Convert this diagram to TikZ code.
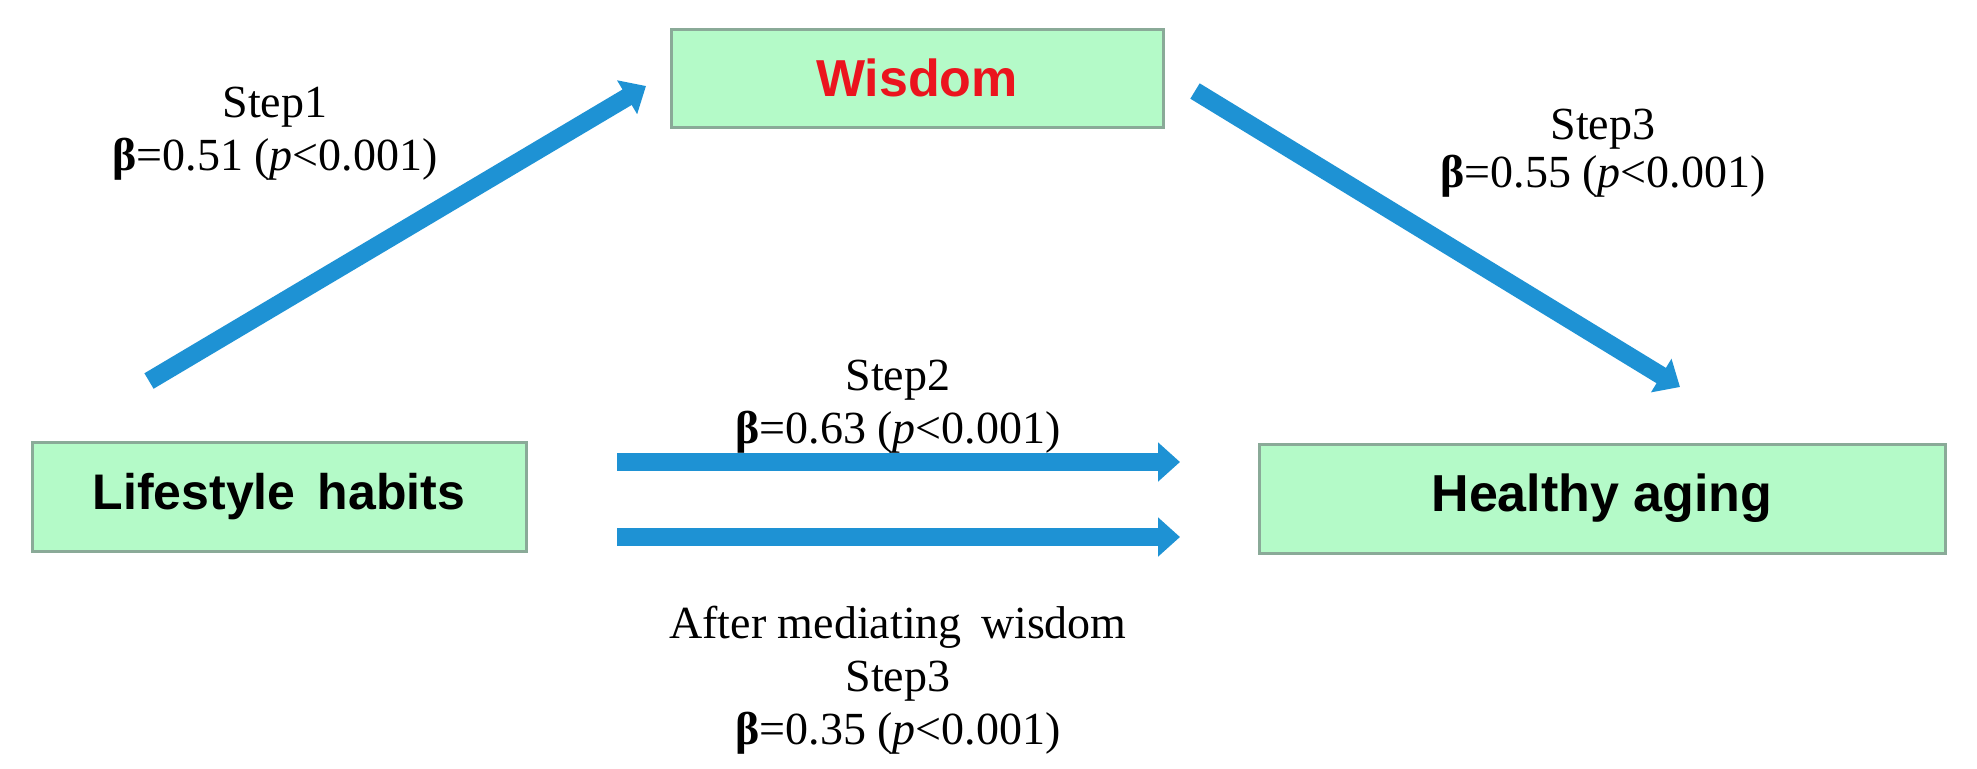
\documentclass[tikz,border=0pt]{standalone}
\usepackage{fontspec}
\setmainfont{Liberation Serif}
\newfontfamily\boxfont{Liberation Sans}
\usetikzlibrary{arrows.meta,calc}
\definecolor{boxfill}{RGB}{180,250,200}
\definecolor{boxline}{RGB}{138,170,152}
\definecolor{arrowblue}{RGB}{30,146,212}
\definecolor{wisred}{RGB}{235,20,30}
\begin{document}
\begin{tikzpicture}[x=0.5pt,y=-0.5pt,
  box/.style={draw=boxline, fill=boxfill, line width=1.5pt, inner sep=0pt,
    font=\boxfont\bfseries\fontsize{26}{30}\selectfont},
  lbl/.style={align=center, font=\fontsize{23}{26.5}\selectfont, inner sep=0pt},
  flow/.style={draw=arrowblue, line width=9pt, -{Triangle[length=11pt,width=19pt]}}]
\useasboundingbox (0,0) rectangle (1977,768);
% boxes
\node[box, minimum width=246pt, minimum height=49pt, text=wisred] (wis) at (917,78) {Wisdom};
\node[box, minimum width=247pt, minimum height=54.5pt, font=\boxfont\bfseries\fontsize{25}{30}\selectfont] (life) at (279,497) {Lifestyle\, habits};
\node[box, minimum width=343pt, minimum height=54.5pt] (heal) at (1602,498.5) {Healthy aging};
% arrow end points
\coordinate (a1s) at (149,381);
\coordinate (a1e) at (646,86);
\coordinate (a3s) at (1195,91);
\coordinate (a3e) at (1680,387);
\coordinate (h1s) at (617,462);
\coordinate (h1e) at (1180,462);
\coordinate (h2s) at (617,537);
\coordinate (h2e) at (1180,537);
% arrows
\draw[flow] (a1s) -- (a1e);
\draw[flow] (a3s) -- (a3e);
\draw[flow] (h1s) -- (h1e);
\draw[flow] (h2s) -- (h2e);
% labels
\node[lbl] (l1) at (275,134) {Step1\\{\bfseries β}=0.51 (\textit{p}<0.001)};
\node[lbl, font=\fontsize{23}{24}\selectfont] (l3) at (1603,153) {Step3\\{\bfseries β}=0.55 (\textit{p}<0.001)};
\node[lbl] (l2) at (898,407) {Step2\\{\bfseries β}=0.63 (\textit{p}<0.001)};
\node[lbl] (l4) at (898,680) {After mediating\, wisdom\\Step3\\{\bfseries β}=0.35 (\textit{p}<0.001)};
\end{tikzpicture}
\end{document}
